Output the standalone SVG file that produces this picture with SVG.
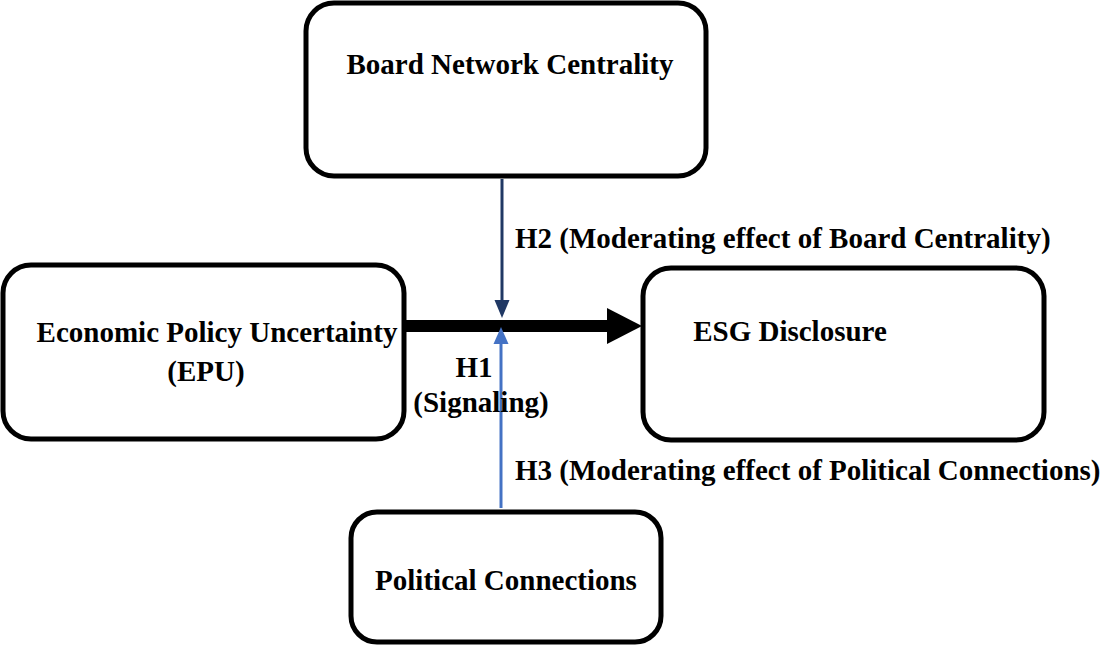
<svg xmlns="http://www.w3.org/2000/svg" width="1108" height="645" viewBox="0 0 1108 645">
<style>
.box{fill:#fff;stroke:#000;stroke-width:5}
.t{font-family:"Liberation Serif","Times New Roman",serif;font-weight:bold;font-size:29px;fill:#000}
</style>
<g id="connectors">
<rect x="405" y="320" width="205" height="12" fill="#000"/>
<path d="M607,308 L642,326 L607,344 Z" fill="#000"/>
<line x1="502" y1="179" x2="502" y2="302" stroke="#203864" stroke-width="3"/>
<path d="M494.5,300 L509.5,300 L502,318 Z" fill="#203864"/>
<line x1="501" y1="508" x2="501" y2="342" stroke="#4472c4" stroke-width="3"/>
<path d="M493.5,344 L508.5,344 L501,327 Z" fill="#4472c4"/>
</g>
<g id="board">
<rect class="box" x="306" y="3" width="400" height="173" rx="28"/>
<text class="t" x="510" y="74" text-anchor="middle">Board Network Centrality</text>
</g>
<g id="epu">
<rect class="box" x="3" y="265" width="401" height="174" rx="28"/>
<text class="t" x="217" y="342" text-anchor="middle">Economic Policy Uncertainty</text>
<text class="t" x="206" y="381" text-anchor="middle">(EPU)</text>
</g>
<g id="esg">
<rect class="box" x="643" y="268" width="401" height="172" rx="28"/>
<text class="t" x="790" y="341" text-anchor="middle">ESG Disclosure</text>
</g>
<g id="political">
<rect class="box" x="351" y="512" width="310" height="130" rx="26"/>
<text class="t" x="506" y="590" text-anchor="middle">Political Connections</text>
</g>
<g id="labels">
<text class="t" x="515" y="248">H2 (Moderating effect of Board Centrality)</text>
<text class="t" x="474" y="377" text-anchor="middle">H1</text>
<text class="t" x="481" y="412" text-anchor="middle">(Signaling)</text>
<text class="t" x="515" y="480">H3 (Moderating effect of Political Connections)</text>
</g>
</svg>
